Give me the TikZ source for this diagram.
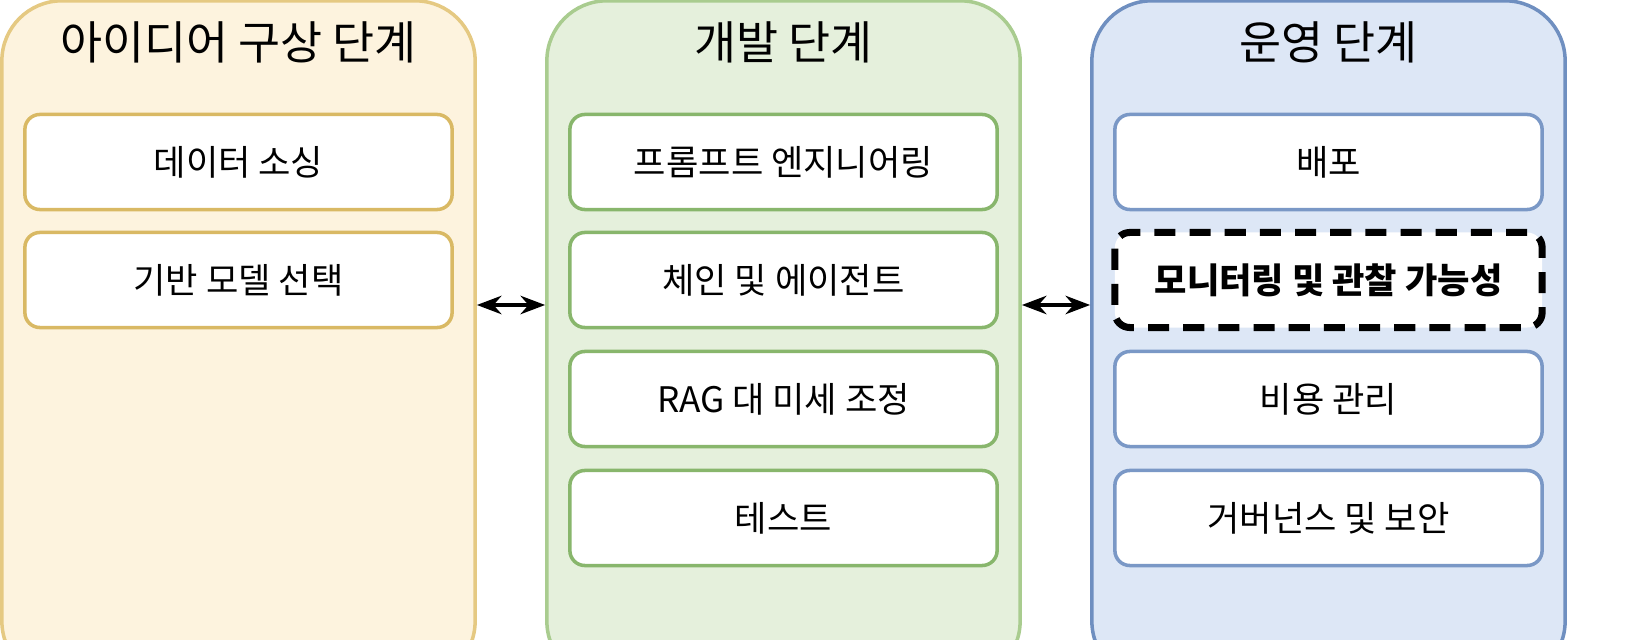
\documentclass[tikz,border=0pt]{standalone}
\usepackage{fontspec}
\setmainfont{Noto Sans CJK KR}
\usetikzlibrary{positioning,arrows.meta}
\definecolor{ideafill}{HTML}{FDF3DE}
\definecolor{ideadraw}{HTML}{E5C982}
\definecolor{ideabox}{HTML}{D9B964}
\definecolor{devfill}{HTML}{E5F0DC}
\definecolor{devdraw}{HTML}{A9CC8F}
\definecolor{devbox}{HTML}{88B66C}
\definecolor{opsfill}{HTML}{DDE7F6}
\definecolor{opsdraw}{HTML}{6F8FC0}
\definecolor{opsbox}{HTML}{7A98C6}
\begin{document}
\begin{tikzpicture}[x=0.01cm,y=-0.01cm,
    stage/.style={rectangle, overlay, rounded corners=0.6cm, line width=1pt, minimum width=4.73cm, minimum height=6.8cm},
    task/.style={rectangle, rounded corners=0.15cm, fill=white, line width=1pt, minimum width=4.27cm, minimum height=0.95cm, font=\fontsize{10}{12}\selectfont},
    title/.style={font=\fontsize{13}{15}\selectfont},
    arrow/.style={{Stealth[length=7pt]}-{Stealth[length=7pt]}, line width=1pt}
]
\useasboundingbox (0,0) rectangle (1648,640);
\clip (0,0) rectangle (1648,640);

% Stages
\node[stage, fill=ideafill, draw=ideadraw] (idea) at (238.5,341) {};
\node[stage, fill=devfill, draw=devdraw] (dev) at (783.5,341) {};
\node[stage, fill=opsfill, draw=opsdraw] (ops) at (1328.5,341) {};

\node[title] at (238.5,42) {아이디어 구상 단계};
\node[title] at (783.5,42) {개발 단계};
\node[title] at (1328.5,42) {운영 단계};

% Idea tasks
\node[task, draw=ideabox] (sourcing) at (238.5,162) {데이터 소싱};
\node[task, draw=ideabox] (model) at (238.5,280) {기반 모델 선택};

% Development tasks
\node[task, draw=devbox] (prompt) at (783.5,162) {프롬프트 엔지니어링};
\node[task, draw=devbox] (chain) at (783.5,280) {체인 및 에이전트};
\node[task, draw=devbox] (rag) at (783.5,399) {RAG 대 미세 조정};
\node[task, draw=devbox] (test) at (783.5,518) {테스트};

% Operations tasks
\node[task, draw=opsbox] (deploy) at (1328.5,162) {배포};
\node[task, draw=black, line width=2pt, dash pattern=on 6pt off 4pt, font=\fontsize{10}{12}\selectfont\bfseries] (monitor) at (1328.5,280) {모니터링 및 관찰 가능성};
\node[task, draw=opsbox] (cost) at (1328.5,399) {비용 관리};
\node[task, draw=opsbox] (gov) at (1328.5,518) {거버넌스 및 보안};

% Links
\draw[arrow] (idea.east |- 0,305) -- (dev.west |- 0,305);
\draw[arrow] (dev.east |- 0,305) -- (ops.west |- 0,305);

\end{tikzpicture}
\end{document}
